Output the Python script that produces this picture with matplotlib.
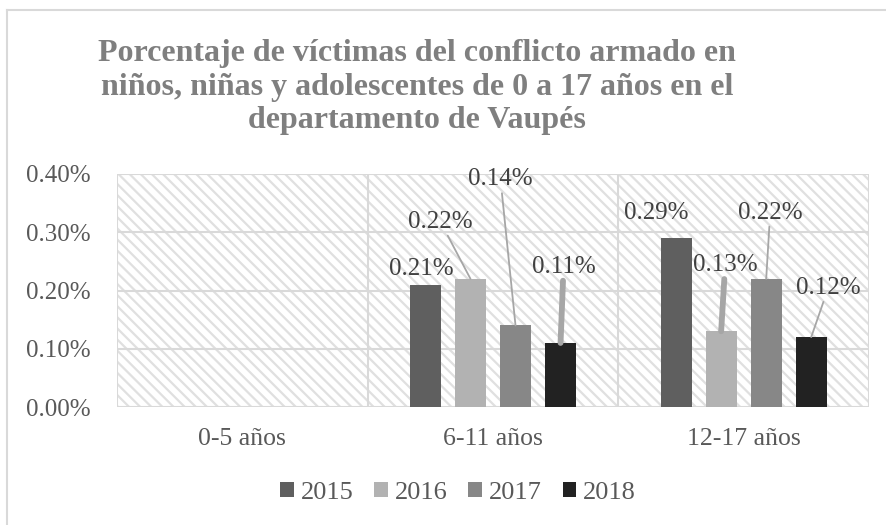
import matplotlib
matplotlib.use("Agg")
import matplotlib.pyplot as plt
from matplotlib.patches import Patch
from matplotlib.lines import Line2D
import numpy as np

plt.rcParams['hatch.linewidth'] = 1.6
plt.rcParams['font.family'] = ['Liberation Serif', 'DejaVu Serif']

# ---- data ----
categories = ["0-5 años", "6-11 años", "12-17 años"]
years = ["2015", "2016", "2017", "2018"]
v2015 = [0.0, 0.21, 0.29]
v2016 = [0.0, 0.22, 0.13]
v2017 = [0.0, 0.14, 0.22]
v2018 = [0.0, 0.11, 0.12]
yticks = [0.0, 0.1, 0.2, 0.3, 0.4]
title = ("Porcentaje de víctimas del conflicto armado en\n"
         "niños, niñas y adolescentes de 0 a 17 años en el\n"
         "departamento de Vaupés")

series = [v2015, v2016, v2017, v2018]
colors = ["#5f5f5f", "#b2b2b2", "#878787", "#222222"]

# label offsets (pixels, relative to bar top centre) per series per category
label_dx = [[0, -4, -20], [0, -30, 4], [0, -15, 4], [0, 3, 17]]
label_dy = [[0, 16, 25], [0, 57, 66], [0, 146, 66], [0, 76, 49]]
leader = [[False, False, False], [False, True, True], [False, True, True], [False, True, True]]
leader_lw = [[1, 1, 1], [1, 1.3, 4.2], [1, 1.3, 1.3], [1, 4.2, 1.3]]

W, H = 887, 525
fig = plt.figure(figsize=(W / 100, H / 100), dpi=100)
ax = fig.add_axes([117 / W, 1 - 407 / H, (869 - 117) / W, (407 - 174) / H])

# hatched plot area
ax.patch.set_facecolor("white")
ax.patch.set_hatch("\\\\\\")
ax.patch.set_edgecolor("#e0e0e0")
ax.patch.set_linewidth(0)

grid_c = "#d9d9d9"
x = np.arange(len(categories))
step = 45 / 250.5
bw = 31 / 250.5
bars = []
for i, vals in enumerate(series):
    b = ax.bar(x + (i - 1.5) * step, vals, width=bw, color=colors[i], zorder=3, label=years[i])
    bars.append(b)

ax.set_xlim(-0.5, len(categories) - 0.5)
ax.set_ylim(0, 0.4)
ax.set_yticks(yticks)
ax.set_yticklabels([f"{t:.2f}%" for t in yticks])
ax.set_xticks(x)
ax.set_xticklabels(categories)
ax.tick_params(axis='y', length=0, pad=19, labelsize=18, labelcolor="#595959")
ax.tick_params(axis='x', length=0, pad=15, labelsize=18.5, labelcolor="#595959")

for yv in yticks:
    ax.axhline(yv, color=grid_c, lw=1.5, zorder=1)
for xv in np.arange(-0.5, len(categories), 1.0):
    ax.axvline(xv, color=grid_c, lw=1.5, zorder=1)
for s in ax.spines.values():
    s.set_visible(False)

# data labels
for i, b in enumerate(bars):
    for j, rect in enumerate(b):
        v = series[i][j]
        if v <= 0:
            continue
        xc = rect.get_x() + rect.get_width() / 2
        top = rect.get_height()
        kw = {}
        if leader[i][j]:
            kw["arrowprops"] = dict(arrowstyle='-', color="#a6a6a6", lw=leader_lw[i][j],
                                    shrinkA=0, shrinkB=0)
        ax.annotate(f"{v:.2f}%", xy=(xc, top),
                    xytext=(label_dx[i][j] * 0.72, label_dy[i][j] * 0.72),
                    textcoords="offset points", ha="center", va="center",
                    fontsize=18, color="#404040", zorder=5, **kw)

# title
fig.text(417 / W, 1 - 87 / H, title, ha="center", va="center", fontsize=23,
         fontweight="bold", color="#7f7f7f", linespacing=1.2)

# legend
handles = [Patch(facecolor=c, edgecolor='none') for c in colors]
fig.legend(handles, years, loc="center", bbox_to_anchor=(458 / W, 1 - 493 / H), ncol=4,
           frameon=False, fontsize=19, handlelength=0.52, handleheight=0.52,
           handletextpad=0.25, columnspacing=0.8, labelcolor="#595959")

# outer chart border (top and left visible)
fig.add_artist(Line2D([7 / W, 1], [1 - 10 / H, 1 - 10 / H], transform=fig.transFigure,
                      color=grid_c, lw=1.5))
fig.add_artist(Line2D([7 / W, 7 / W], [0, 1 - 10 / H], transform=fig.transFigure,
                      color=grid_c, lw=1.5))

fig.savefig("out.png", dpi=100)
